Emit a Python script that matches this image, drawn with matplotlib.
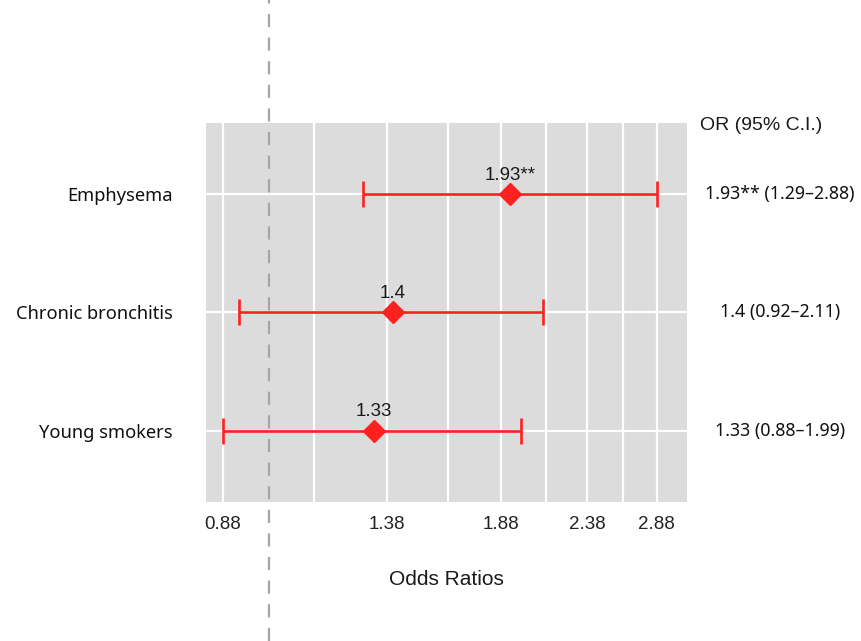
import matplotlib
matplotlib.use("Agg")
import matplotlib.pyplot as plt
import matplotlib.transforms as mtransforms
from matplotlib.ticker import FixedLocator, FixedFormatter, NullFormatter

# ---- data ----
categories = ["Young smokers", "Chronic bronchitis", "Emphysema"]
odds_ratios = [1.33, 1.40, 1.93]
ci_low = [0.88, 0.92, 1.29]
ci_high = [1.99, 2.11, 2.88]
point_labels = ["1.33", "1.4", "1.93**"]
table_labels = ["1.33 (0.88\u20131.99)", "1.4 (0.92\u20132.11)", "1.93** (1.29\u20132.88)"]
x_major_ticks = [0.88, 1.38, 1.88, 2.38, 2.88]
x_major_labels = ["0.88", "1.38", "1.88", "2.38", "2.88"]
x_minor_ticks = [1.13, 1.63, 2.13, 2.63]
reference_value = 1.0

plt.rcParams["lines.scale_dashes"] = False
W, H = 862, 641
fig = plt.figure(figsize=(W / 100, H / 100), dpi=100)
ax = fig.add_axes([206 / W, 1 - 501.7 / H, (686.7 - 206) / W, (501.7 - 122.7) / H])

regular = ["Liberation Sans", "DejaVu Sans"]
gothic = ["Noto Sans", "DejaVu Sans"]

ax.set_facecolor("#DCDCDC")
for s in ax.spines.values():
    s.set_visible(False)

ax.set_xscale("log")
ax.set_xlim(0.841, 3.126)
ax.set_ylim(0.4, 3.6)

ax.xaxis.set_major_locator(FixedLocator(x_major_ticks))
ax.xaxis.set_major_formatter(FixedFormatter(x_major_labels))
ax.xaxis.set_minor_locator(FixedLocator(x_minor_ticks))
ax.xaxis.set_minor_formatter(NullFormatter())

ypos = list(range(1, len(categories) + 1))
ax.set_yticks(ypos)
ax.set_yticklabels(categories)

ax.grid(True, which="major", axis="both", color="white", lw=1.6)
ax.grid(True, which="minor", axis="x", color="white", lw=1.6)
ax.set_axisbelow(True)

ax.tick_params(axis="both", which="both", length=0)
ax.tick_params(axis="x", pad=10, labelsize=13.5, labelcolor="#222222")
ax.tick_params(axis="y", pad=24, labelsize=13.2, labelcolor="#111111")
for t in ax.get_xticklabels():
    t.set_family(regular)
for t in ax.get_yticklabels():
    t.set_family(gothic)

# error bars
xerr = [[o - l for o, l in zip(odds_ratios, ci_low)],
        [h - o for o, h in zip(odds_ratios, ci_high)]]
ax.errorbar(odds_ratios, ypos, xerr=xerr, fmt="none", ecolor="#FF2020",
            elinewidth=1.9, capsize=9.5, capthick=1.9, zorder=3)
ax.plot(odds_ratios, ypos, linestyle="none", marker="D", ms=11,
        color="#FF2020", zorder=4)

for o, y, lab in zip(odds_ratios, ypos, point_labels):
    ax.annotate(lab, (o, y), xytext=(0, 13.5), textcoords="offset points",
                ha="center", va="center", fontsize=13.5, family=regular,
                color="#1a1a1a")

ax.set_xlabel("Odds Ratios", fontsize=15, family=regular, color="#1a1a1a",
              labelpad=27)

# reference dashed line spanning whole figure height
trans = mtransforms.blended_transform_factory(ax.transData, fig.transFigure)
ax.plot([reference_value, reference_value], [0, 1], transform=trans,
        color="#A6A6A6", lw=1.6, dashes=(9.5, 7.5), clip_on=False, zorder=5)

# right-hand table
ttrans = mtransforms.blended_transform_factory(fig.transFigure, ax.transData)
for y, lab in zip(ypos, table_labels):
    ax.text(780 / W, y, lab, transform=ttrans, ha="center", va="center",
            fontsize=12.8, family=gothic, color="#111111", clip_on=False)
fig.text(700 / W, 1 - 125 / H, "OR (95% C.I.)", ha="left", va="center",
         fontsize=14, family=regular, color="#1a1a1a")

fig.savefig("out.png", dpi=100, facecolor="white")
